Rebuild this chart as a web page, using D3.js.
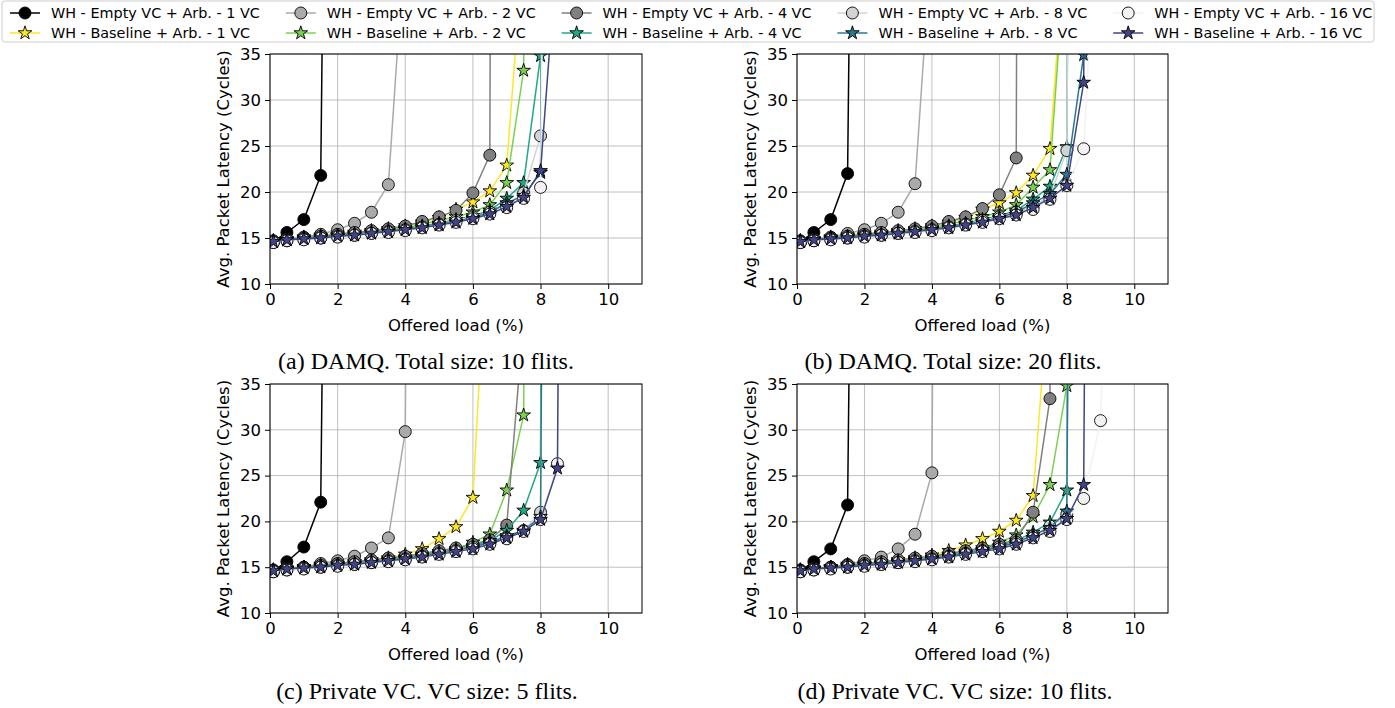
<!DOCTYPE html>
<meta charset="utf-8">
<style>
body { margin: 0; background: #fff; }
svg { display: block; }
.tick text { font-family: "DejaVu Sans", sans-serif; font-size: 16.5px; fill: #000; }
.axis-label { font-family: "DejaVu Sans", sans-serif; font-size: 16.5px; fill: #000; }
.caption { font-family: "Liberation Serif", "Times New Roman", serif; font-size: 24px; fill: #000; }
.legend text { font-family: "DejaVu Sans", sans-serif; font-size: 14.4px; fill: #000; }
.grid line { stroke: #b0b0b0; stroke-width: 0.8px; }
</style>
<svg width="1395" height="708"></svg>
<script src="https://cdn.jsdelivr.net/npm/d3@7"></script>
<script>

var svg = d3.select("svg");

// offered load (%) for each sample point
var loads = [0.1, 0.5, 1.0, 1.5, 2.0, 2.5, 3.0, 3.5, 4.0, 4.5, 5.0, 5.5, 6.0, 6.5, 7.0, 7.5, 8.0, 8.5, 9.0, 9.5];

var vcCounts = ["1", "2", "4", "8", "16"];
var emptyColors = ["#000000", "#aaaaaa", "#808080", "#d3d3d3", "#f2f2f2"];
var baseColors = ["#fde725", "#7ad151", "#22a884", "#2a788e", "#414487"];

var captions = [
  "(a) DAMQ. Total size: 10 flits.",
  "(b) DAMQ. Total size: 20 flits.",
  "(c) Private VC. VC size: 5 flits.",
  "(d) Private VC. VC size: 10 flits."
];

var xTicks = [0, 2, 4, 6, 8, 10];
var yTicks = [10, 15, 20, 25, 30, 35];

// latency per series (1, 2, 4, 8, 16 VC); points past the top run off the chart
var damq10Empty = [
  [14.6, 15.6, 17.0, 21.8, 190],
  [14.7, 14.9, 15.1, 15.4, 15.9, 16.6, 17.8, 20.8, 48],
  [14.6, 14.8, 15.0, 15.2, 15.4, 15.6, 15.8, 16.0, 16.3, 16.8, 17.3, 18.0, 19.9, 24.0, 600],
  [14.5, 14.7, 14.9, 15.0, 15.2, 15.3, 15.5, 15.7, 15.9, 16.2, 16.5, 16.9, 17.3, 17.8, 18.6, 19.9, 26.1, 300],
  [14.5, 14.7, 14.8, 15.0, 15.1, 15.3, 15.5, 15.6, 15.8, 16.1, 16.4, 16.7, 17.1, 17.6, 18.3, 19.3, 20.5, 200]
];
var damq10Base = [
  [14.7, 14.9, 15.1, 15.3, 15.5, 15.6, 15.8, 16.0, 16.3, 16.7, 17.2, 18.1, 18.9, 20.1, 22.9, 47],
  [14.7, 14.8, 15.0, 15.2, 15.3, 15.5, 15.7, 15.9, 16.1, 16.5, 16.9, 17.3, 17.8, 18.6, 21.0, 33.2, 300],
  [14.6, 14.8, 15.0, 15.1, 15.3, 15.4, 15.6, 15.8, 16.0, 16.3, 16.6, 17.0, 17.4, 18.0, 19.3, 21.0, 34.8, 300],
  [14.6, 14.8, 14.9, 15.1, 15.2, 15.4, 15.6, 15.7, 15.9, 16.2, 16.5, 16.8, 17.2, 17.8, 18.8, 19.6, 22.1, 300],
  [14.6, 14.8, 14.9, 15.0, 15.2, 15.3, 15.5, 15.7, 15.9, 16.1, 16.4, 16.7, 17.1, 17.6, 18.4, 19.4, 22.3, 47]
];

var damq20Empty = [
  [14.6, 15.6, 17.0, 22.0, 190],
  [14.7, 14.9, 15.1, 15.5, 15.9, 16.6, 17.8, 20.9, 48],
  [14.6, 14.8, 15.0, 15.2, 15.4, 15.6, 15.8, 16.0, 16.3, 16.8, 17.3, 18.2, 19.7, 23.7, 600],
  [14.5, 14.7, 14.9, 15.0, 15.2, 15.3, 15.5, 15.7, 15.9, 16.2, 16.5, 16.9, 17.3, 17.8, 18.4, 19.6, 24.5, 300],
  [14.5, 14.7, 14.8, 15.0, 15.1, 15.3, 15.5, 15.6, 15.8, 16.1, 16.4, 16.7, 17.1, 17.5, 18.1, 19.2, 20.7, 24.7, 60]
];
var damq20Base = [
  [14.7, 14.9, 15.1, 15.3, 15.5, 15.6, 15.8, 16.0, 16.3, 16.7, 17.2, 18.1, 18.8, 19.9, 21.8, 24.7, 50],
  [14.7, 14.8, 15.0, 15.2, 15.3, 15.5, 15.7, 15.9, 16.1, 16.5, 16.9, 17.3, 17.8, 18.6, 20.5, 22.4, 48],
  [14.6, 14.8, 15.0, 15.1, 15.3, 15.4, 15.6, 15.8, 16.0, 16.3, 16.6, 17.0, 17.4, 18.0, 19.2, 20.6, 24.9, 300],
  [14.6, 14.8, 14.9, 15.1, 15.2, 15.4, 15.6, 15.7, 15.9, 16.2, 16.5, 16.8, 17.2, 17.8, 18.8, 19.8, 21.9, 34.9, 300],
  [14.6, 14.8, 14.9, 15.0, 15.2, 15.3, 15.5, 15.7, 15.9, 16.1, 16.4, 16.7, 17.1, 17.5, 18.3, 19.3, 20.7, 31.9, 300]
];

var priv5Empty = [
  [14.6, 15.6, 17.2, 22.1, 190],
  [14.7, 14.9, 15.0, 15.4, 15.7, 16.2, 17.1, 18.2, 29.8, 300],
  [14.6, 14.8, 15.0, 15.2, 15.4, 15.6, 15.8, 16.0, 16.2, 16.5, 16.8, 17.1, 17.5, 18.0, 19.6, 42],
  [14.5, 14.7, 14.9, 15.0, 15.2, 15.3, 15.5, 15.7, 15.9, 16.2, 16.5, 16.8, 17.2, 17.6, 18.2, 19.0, 21.0, 300],
  [14.5, 14.7, 14.8, 15.0, 15.1, 15.3, 15.5, 15.6, 15.8, 16.1, 16.4, 16.7, 17.0, 17.5, 18.1, 18.9, 20.2, 26.3, 300]
];
var priv5Base = [
  [14.7, 14.9, 15.0, 15.3, 15.4, 15.6, 15.8, 16.0, 16.4, 17.0, 18.1, 19.4, 22.6, 57],
  [14.7, 14.8, 15.0, 15.2, 15.3, 15.5, 15.7, 15.9, 16.1, 16.4, 16.7, 17.0, 17.7, 18.6, 23.4, 31.6, 300],
  [14.6, 14.8, 15.0, 15.1, 15.3, 15.4, 15.6, 15.8, 16.0, 16.3, 16.6, 16.9, 17.3, 17.9, 19.0, 21.2, 26.4, 600],
  [14.6, 14.8, 14.9, 15.1, 15.2, 15.4, 15.6, 15.7, 15.9, 16.2, 16.5, 16.8, 17.2, 17.7, 18.4, 19.0, 20.5, 300],
  [14.6, 14.8, 14.9, 15.0, 15.2, 15.3, 15.5, 15.7, 15.9, 16.1, 16.4, 16.7, 17.0, 17.5, 18.2, 18.9, 20.2, 25.8, 300]
];

var priv10Empty = [
  [14.6, 15.6, 17.0, 21.8, 190],
  [14.7, 14.9, 15.0, 15.3, 15.7, 16.1, 17.0, 18.6, 25.3, 300],
  [14.6, 14.8, 15.0, 15.2, 15.4, 15.6, 15.8, 16.0, 16.2, 16.5, 16.8, 17.1, 17.5, 18.0, 21.0, 33.4, 300],
  [14.5, 14.7, 14.9, 15.0, 15.2, 15.3, 15.5, 15.7, 15.9, 16.2, 16.5, 16.8, 17.2, 17.7, 18.4, 19.5, 20.8, 300],
  [14.5, 14.7, 14.8, 15.0, 15.1, 15.3, 15.5, 15.6, 15.8, 16.1, 16.4, 16.7, 17.0, 17.5, 18.2, 18.9, 20.2, 22.5, 31.0, 80]
];
var priv10Base = [
  [14.7, 14.9, 15.0, 15.3, 15.4, 15.6, 15.8, 16.0, 16.3, 16.8, 17.4, 18.1, 18.9, 20.1, 22.8, 47],
  [14.7, 14.8, 15.0, 15.2, 15.3, 15.5, 15.7, 15.9, 16.1, 16.4, 16.7, 17.1, 17.7, 18.5, 20.5, 24.0, 34.8, 300],
  [14.6, 14.8, 15.0, 15.1, 15.3, 15.4, 15.6, 15.8, 16.0, 16.3, 16.6, 16.9, 17.3, 17.9, 18.8, 19.9, 23.4, 300],
  [14.6, 14.8, 14.9, 15.1, 15.2, 15.4, 15.6, 15.7, 15.9, 16.2, 16.5, 16.8, 17.2, 17.7, 18.5, 19.3, 21.1, 300],
  [14.6, 14.8, 14.9, 15.0, 15.2, 15.3, 15.5, 15.7, 15.9, 16.1, 16.4, 16.7, 17.0, 17.5, 18.2, 19.0, 20.3, 24.0, 300]
];

var panels = [
  {x: 270, y: 54, w: 372, h: 230, empty: damq10Empty, base: damq10Base, capX: 426, capY: 369},
  {x: 797, y: 54, w: 371, h: 230, empty: damq20Empty, base: damq20Base, capX: 953, capY: 369},
  {x: 270, y: 384, w: 372, h: 229, empty: priv5Empty, base: priv5Base, capX: 427, capY: 699},
  {x: 797, y: 384, w: 371, h: 229, empty: priv10Empty, base: priv10Base, capX: 955, capY: 699}
];

var star = d3.symbol().type(d3.symbolStar).size(58);

panels.forEach(function(p, pi) {
  var x = d3.scaleLinear().domain([0, 11]).range([p.x, p.x + p.w]);
  var y = d3.scaleLinear().domain([10, 35]).range([p.y + p.h, p.y]);

  // grid
  var grid = svg.append("g").attr("class", "grid");
  grid.selectAll(".gx").data(xTicks).enter().append("line")
      .attr("x1", function(d) { return x(d); }).attr("x2", function(d) { return x(d); })
      .attr("y1", p.y).attr("y2", p.y + p.h);
  grid.selectAll(".gy").data(yTicks).enter().append("line")
      .attr("x1", p.x).attr("x2", p.x + p.w)
      .attr("y1", function(d) { return y(d); }).attr("y2", function(d) { return y(d); });

  svg.append("clipPath").attr("id", "clip" + pi)
    .append("rect").attr("x", p.x).attr("y", p.y).attr("width", p.w).attr("height", p.h);

  var plot = svg.append("g").attr("clip-path", "url(#clip" + pi + ")");
  var line = d3.line()
      .x(function(d) { return x(d[0]); })
      .y(function(d) { return y(d[1]); });

  // plotted in legend order: empty 1, base 1, empty 2, base 2, ...
  vcCounts.forEach(function(vc, i) {
    var ePts = p.empty[i].map(function(v, j) { return [loads[j], v]; });
    var bPts = p.base[i].map(function(v, j) { return [loads[j], v]; });

    plot.append("path").datum(ePts)
        .attr("d", line).attr("fill", "none")
        .attr("stroke", emptyColors[i]).attr("stroke-width", 1.5);
    plot.selectAll(null).data(ePts).enter().append("circle")
        .attr("cx", function(d) { return x(d[0]); })
        .attr("cy", function(d) { return y(d[1]); })
        .attr("r", 6)
        .attr("fill", emptyColors[i])
        .attr("stroke", "#000").attr("stroke-width", 0.9);

    plot.append("path").datum(bPts)
        .attr("d", line).attr("fill", "none")
        .attr("stroke", baseColors[i]).attr("stroke-width", 1.5);
    plot.selectAll(null).data(bPts).enter().append("path")
        .attr("d", star)
        .attr("transform", function(d) { return "translate(" + x(d[0]) + "," + y(d[1]) + ")"; })
        .attr("fill", baseColors[i])
        .attr("stroke", "#000").attr("stroke-width", 0.9);
  });

  svg.append("rect")
      .attr("x", p.x).attr("y", p.y).attr("width", p.w).attr("height", p.h)
      .attr("fill", "none").attr("stroke", "#000").attr("stroke-width", 1);

  svg.append("g")
      .attr("transform", "translate(0," + (p.y + p.h) + ")")
      .call(d3.axisBottom(x).tickValues(xTicks).tickSize(5).tickPadding(4))
      .call(function(g) { g.select(".domain").remove(); });

  svg.append("g")
      .attr("transform", "translate(" + p.x + ",0)")
      .call(d3.axisLeft(y).tickValues(yTicks).tickSize(5).tickPadding(4))
      .call(function(g) { g.select(".domain").remove(); });

  svg.append("text").attr("class", "axis-label")
      .attr("x", (x(0) + x(11)) / 2)
      .attr("y", p.y + p.h + 47)
      .attr("text-anchor", "middle")
      .text("Offered load (%)");

  svg.append("text").attr("class", "axis-label")
      .attr("transform", "translate(" + (p.x - 41) + "," + (p.y + p.h / 2) + ") rotate(-90)")
      .attr("text-anchor", "middle")
      .text("Avg. Packet Latency (Cycles)");

  svg.append("text").attr("class", "caption")
      .attr("x", p.capX).attr("y", p.capY)
      .attr("text-anchor", "middle")
      .text(captions[pi]);
});

// legend, two rows x five columns
var legend = svg.append("g").attr("class", "legend");
legend.append("rect")
    .attr("x", 2).attr("y", 1).attr("width", 1372).attr("height", 41).attr("rx", 3)
    .attr("fill", "#fff").attr("fill-opacity", 0.8)
    .attr("stroke", "#cccccc").attr("stroke-width", 1);

vcCounts.forEach(function(vc, i) {
  var cx = 10 + i * 275.8;
  var e = legend.append("g").attr("transform", "translate(" + cx + ",13)");
  e.append("line").attr("x1", 0).attr("x2", 30).attr("stroke", emptyColors[i]).attr("stroke-width", 1.5);
  e.append("circle").attr("cx", 15).attr("r", 6).attr("fill", emptyColors[i])
      .attr("stroke", "#000").attr("stroke-width", 0.9);
  e.append("text").attr("x", 41).attr("dy", "0.35em").text("WH - Empty VC + Arb. - " + vc + " VC");

  var b = legend.append("g").attr("transform", "translate(" + cx + ",33)");
  b.append("line").attr("x1", 0).attr("x2", 30).attr("stroke", baseColors[i]).attr("stroke-width", 1.5);
  b.append("path").attr("d", star).attr("transform", "translate(15,0)").attr("fill", baseColors[i])
      .attr("stroke", "#000").attr("stroke-width", 0.9);
  b.append("text").attr("x", 41).attr("dy", "0.35em").text("WH - Baseline + Arb. - " + vc + " VC");
});

</script>
